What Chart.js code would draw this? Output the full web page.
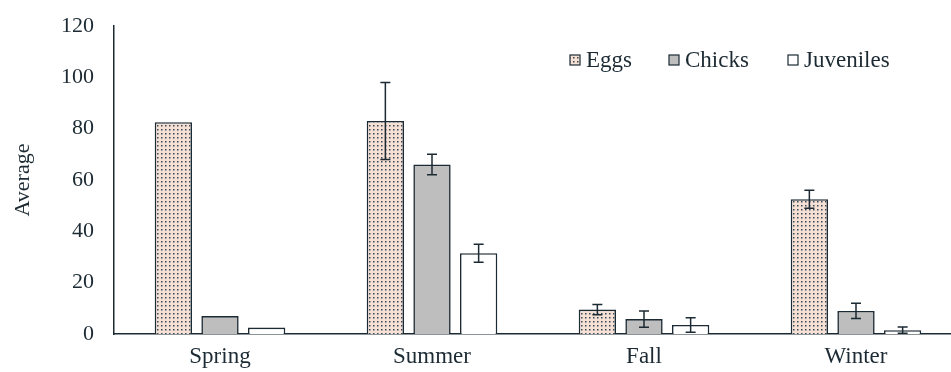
<!DOCTYPE html>
<html>
<head>
<meta charset="utf-8">
<script src="https://cdn.jsdelivr.net/npm/chart.js@4.4.1/dist/chart.umd.min.js"></script>
<style>
  body { margin: 0; background: #fff; overflow: hidden; }
  #wrap { width: 965px; height: 372px; }
</style>
</head>
<body>
<div id="wrap"><canvas id="chart" width="965" height="372"></canvas></div>
<script>
const seasons = ['Spring', 'Summer', 'Fall', 'Winter'];
const seriesNames = ['Eggs', 'Chicks', 'Juveniles'];
const eggs = [82.5, 83, 9.5, 52.5];
const chicks = [7, 66, 5.8, 9];
const juveniles = [2.5, 31.5, 3.5, 1.5];
const eggsErr = [0, 15, 2, 3.5];
const chicksErr = [0, 4, 3.2, 3];
const juvenilesErr = [0, 3.5, 2.8, 1.2];
const yTicks = [0, 20, 40, 60, 80, 100, 120];

const ink = '#1c2a33';
const font = 'Liberation Serif';

// dotted fill for the eggs bars
const makeDots = () => {
    const tile = document.createElement('canvas');
    tile.width = 4;
    tile.height = 4;
    const t = tile.getContext('2d');
    t.fillStyle = '#f5e0d6';
    t.fillRect(0, 0, 4, 4);
    t.fillStyle = '#3a4550';
    t.fillRect(1, 1, 1.5, 1.5);
    return t.createPattern(tile, 'repeat');
};

const ctx = document.getElementById('chart').getContext('2d');
const dots = makeDots();
const fills = [dots, '#bebebe', '#ffffff'];
const errors = [eggsErr, chicksErr, juvenilesErr];

const errorBars = {
    id: 'errorBars',
    afterDatasetsDraw(chart) {
        const c = chart.ctx;
        const y = chart.scales.y;
        c.save();
        c.strokeStyle = ink;
        c.lineWidth = 1.5;
        chart.data.datasets.forEach((ds, i) => {
            const meta = chart.getDatasetMeta(i);
            meta.data.forEach((bar, j) => {
                const e = errors[i][j];
                if (!e) return;
                const v = ds.data[j];
                const top = y.getPixelForValue(v + e);
                const bot = y.getPixelForValue(Math.max(0, v - e));
                c.beginPath();
                c.moveTo(bar.x, top);
                c.lineTo(bar.x, bot);
                c.moveTo(bar.x - 5, top);
                c.lineTo(bar.x + 5, top);
                c.moveTo(bar.x - 5, bot);
                c.lineTo(bar.x + 5, bot);
                c.stroke();
            });
        });
        c.restore();
    }
};

const boxLegend = {
    id: 'boxLegend',
    afterDraw(chart) {
        const c = chart.ctx;
        const area = chart.chartArea;
        const starts = [456, 555, 674];
        c.save();
        c.font = `23px "${font}"`;
        c.textBaseline = 'middle';
        chart.data.datasets.forEach((ds, i) => {
            const x = area.left + starts[i];
            const y = 60;
            c.fillStyle = ds.backgroundColor;
            c.fillRect(x, y - 5, 10, 10);
            c.strokeStyle = ink;
            c.lineWidth = 1.2;
            c.strokeRect(x, y - 5, 10, 10);
            c.fillStyle = ink;
            c.fillText(ds.label, x + 16, y + 1);
        });
        c.restore();
    }
};

new Chart(ctx, {
    type: 'bar',
    data: {
        labels: seasons,
        datasets: [eggs, chicks, juveniles].map((data, i) => ({
            label: seriesNames[i],
            data,
            backgroundColor: fills[i],
            borderColor: ink,
            borderWidth: 1.6,
            categoryPercentage: 0.66,
            barPercentage: 0.8
        }))
    },
    options: {
        responsive: false,
        devicePixelRatio: 1,
        animation: false,
        layout: { padding: { left: 0, top: 26, right: 3, bottom: 0 } },
        plugins: {
            legend: { display: false },
            tooltip: { enabled: false }
        },
        scales: {
            x: {
                grid: { display: false, drawTicks: false },
                border: { color: ink, width: 1.5 },
                ticks: { color: ink, font: { family: font, size: 23 }, padding: 9 },
                afterFit(scale) { scale.height = 38; }
            },
            y: {
                min: 0,
                max: 120,
                afterBuildTicks(scale) { scale.ticks = yTicks.map(v => ({ value: v })); },
                grid: { display: false, drawTicks: false },
                border: { color: ink, width: 1.5 },
                ticks: { color: ink, font: { family: font, size: 22 }, padding: 20 },
                title: {
                    display: true,
                    text: 'Average',
                    color: ink,
                    font: { family: font, size: 22 },
                    padding: { top: 10, bottom: 0 }
                },
                afterFit(scale) {
                    scale.width = 114;
                    scale.paddingTop = 0;
                    scale.paddingBottom = 0;
                }
            }
        }
    },
    plugins: [errorBars, boxLegend]
});
</script>
</body>
</html>
